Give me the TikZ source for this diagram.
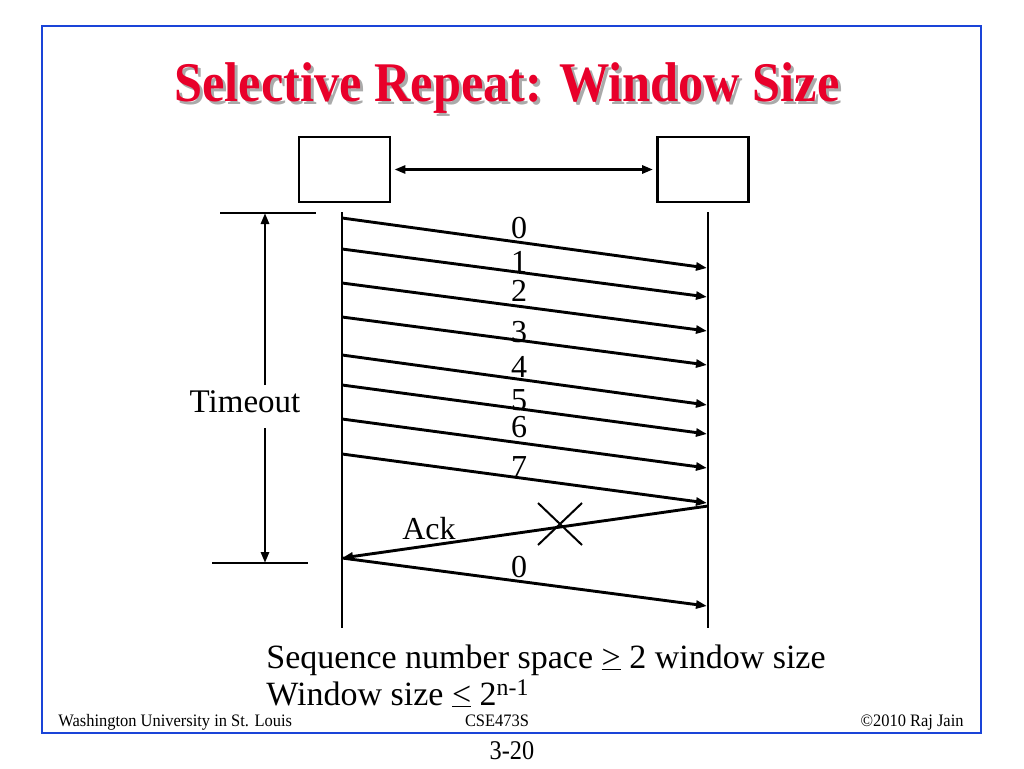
\documentclass[tikz,border=0pt]{standalone}
\usepackage{fontspec}
\setmainfont{Liberation Serif}
\usetikzlibrary{arrows.meta,shapes.misc}
\definecolor{framblue}{RGB}{26,68,216}
\definecolor{titred}{RGB}{232,0,42}
\definecolor{shadgray}{RGB}{170,170,170}
\begin{document}
\begin{tikzpicture}[x=1pt,y=-1pt,
  line width=2.9pt,
  tip/.style={-{Triangle[length=11pt,width=8pt]}},
  box/.style={draw,minimum width=91pt,minimum height=65pt,inner sep=0pt},
  lbl/.style={inner sep=0pt,font=\fontsize{32}{36}\selectfont},
  body/.style={inner sep=0pt,font=\fontsize{34}{37}\selectfont,anchor=base west},
  foot/.style={inner sep=0pt,font=\fontsize{17.5}{19}\selectfont,anchor=base}
]
\useasboundingbox (0,0) rectangle (1024,768);
\draw[framblue,line width=2.8pt] (42,26) rectangle (981,733);
% title
\node[inner sep=0pt,text=shadgray,font=\fontsize{56}{60}\selectfont\bfseries] (titsh) at (510,91)
  {\scalebox{0.9}[1]{Selective Repeat: Window Size}};
\node[inner sep=0pt,text=titred,font=\fontsize{56}{60}\selectfont\bfseries] (tit) at (507,88)
  {\scalebox{0.9}[1]{Selective Repeat: Window Size}};
% boxes
\node[box] (A) at (344.5,169.5) {};
\node[box] (B) at (703,169.5) {};
\coordinate (ae) at ([xshift=3pt]A.east);
\coordinate (bw) at ([xshift=-3pt]B.west);
\draw[{Triangle[length=11pt,width=8pt]}-{Triangle[length=11pt,width=8pt]}] (ae) -- (bw);
% lifelines
\coordinate (Ltop) at (342,212);
\coordinate (Lbot) at (342,628);
\coordinate (Rtop) at (708,212);
\coordinate (Rbot) at (708,628);
\draw (Ltop) -- (Lbot);
\draw (Rtop) -- (Rbot);
% messages
\foreach \n/\ya/\yb in {0/218/268,1/249/297,2/283/331,3/317/365,4/355/405,5/385/434,6/419/468,7/454/503,8/558/606}{
  \coordinate (L\n) at (342,\ya);
  \coordinate (R\n) at (707,\yb);
  \draw[tip] (L\n) -- (R\n);
}
\coordinate (RA) at (708,506);
\coordinate (LA) at (342,558);
\draw[tip] (RA) -- (LA);
% labels
\node[lbl] (n0) at (519,228) {0};
\node[lbl] (n1) at (519,262) {1};
\node[lbl] (n2) at (519,291) {2};
\node[lbl] (n3) at (519,332) {3};
\node[lbl] (n4) at (519,367) {4};
\node[lbl] (n5) at (519,400) {5};
\node[lbl] (n6) at (519,427) {6};
\node[lbl] (n7) at (519,467) {7};
\node[lbl] (ack) at (429,529) {Ack};
\node[lbl] (n8) at (519,567) {0};
% lost ack
\node[cross out,draw,line width=2pt,minimum width=42pt,minimum height=40pt,inner sep=0pt] (X) at (560,524) {};
% timeout
\coordinate (t1) at (220,213);
\coordinate (t2) at (316,213);
\coordinate (b1) at (212,563);
\coordinate (b2) at (308,563);
\draw (t1) -- (t2);
\draw (b1) -- (b2);
\coordinate (tt) at (265,213);
\coordinate (tb) at (265,563);
\node[lbl,font=\fontsize{33}{36}\selectfont,inner sep=0pt] (to) at (245,402) {Timeout};
\coordinate (tu) at (265,385);
\coordinate (td) at (265,428);
\draw[tip] (tu) -- (tt);
\draw[tip] (td) -- (tb);
% bottom text
\node[body] (s1) at (265,668) {Sequence number space \underline{>} 2 window size};
\node[body] (s2) at (265,705) {Window size \underline{<} 2\textsuperscript{n-1}};
% footer
\node[foot,anchor=base west] (f1) at (57,726) {\scalebox{0.94}[1]{Washington University in St. Louis}};
\node[foot] (f2) at (497,726) {\scalebox{0.94}[1]{CSE473S}};
\node[foot,anchor=base east] (f3) at (965,726) {\scalebox{0.94}[1]{©2010 Raj Jain}};
\node[inner sep=0pt,font=\fontsize{27}{30}\selectfont,anchor=base] (pg) at (512,759) {\scalebox{0.9}[1]{3-20}};
\end{tikzpicture}
\end{document}
